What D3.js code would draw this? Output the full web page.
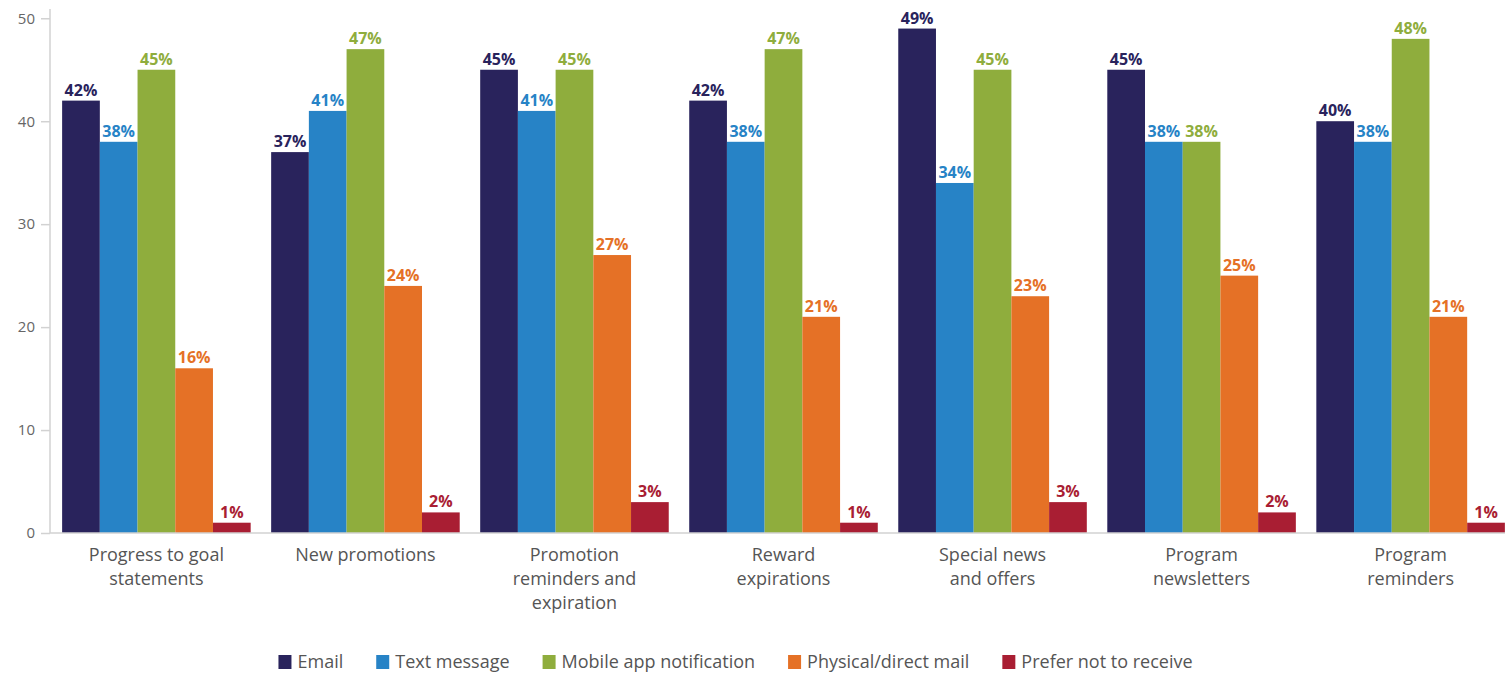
<!DOCTYPE html>
<html>
<head>
<meta charset="utf-8">
<script src="https://cdn.jsdelivr.net/npm/d3@7"></script>
<style>
  html, body { margin: 0; padding: 0; background: #fff; }
  svg { display: block; font-family: "Open Sans", "Noto Sans", sans-serif; }
</style>
</head>
<body>
<svg id="chart" width="1511" height="673"></svg>
<script>
// Preferred channel for each kind of program communication (% of respondents)
const categories = [
  "Progress to goal statements",
  "New promotions",
  "Promotion reminders and expiration",
  "Reward expirations",
  "Special news and offers",
  "Program newsletters",
  "Program reminders"
];
const categoryLines = [
  ["Progress to goal", "statements"],
  ["New promotions"],
  ["Promotion", "reminders and", "expiration"],
  ["Reward", "expirations"],
  ["Special news", "and offers"],
  ["Program", "newsletters"],
  ["Program", "reminders"]
];
const seriesNames = ["Email", "Text message", "Mobile app notification", "Physical/direct mail", "Prefer not to receive"];
const email    = [42, 37, 45, 42, 49, 45, 40];
const textMsg  = [38, 41, 41, 38, 34, 38, 38];
const mobile   = [45, 47, 45, 47, 45, 38, 48];
const physical = [16, 24, 27, 21, 23, 25, 21];
const prefer   = [1, 2, 3, 1, 3, 2, 1];
const seriesValues = [email, textMsg, mobile, physical, prefer];
const seriesColors = ["#29235c", "#2783c6", "#8fad3d", "#e57126", "#a91e33"];
const yTicks = [0, 10, 20, 30, 40, 50];

const svg = d3.select("#chart");
const plotLeft = 50, plotRight = 1505, plotTop = 9, plotBottom = 533;

const x0 = d3.scaleBand().domain(categories).range([plotLeft, plotRight + 12])
  .paddingInner(0.098).paddingOuter(0.058);
const x1 = d3.scaleBand().domain(seriesNames).range([0, x0.bandwidth()]);
const y = d3.scaleLinear().domain([0, 50.9]).range([plotBottom, plotTop]);
const color = d3.scaleOrdinal().domain(seriesNames).range(seriesColors);

const axisColor = "#d2d2d2";

// y axis
const yAxis = svg.append("g")
  .attr("transform", `translate(${plotLeft},0)`)
  .call(d3.axisLeft(y).tickValues(yTicks).tickSize(9).tickPadding(6).tickFormat(d3.format("d")));
yAxis.select(".domain").remove();
yAxis.selectAll(".tick line").attr("stroke", axisColor).attr("stroke-width", 1.5);
yAxis.selectAll(".tick text").attr("fill", "#666").style("font-size", "15px")
  .style("font-family", "\"Open Sans\", sans-serif");
svg.append("line")
  .attr("x1", plotLeft).attr("x2", plotLeft).attr("y1", plotTop).attr("y2", plotBottom)
  .attr("stroke", axisColor).attr("stroke-width", 1.5);

// bars
const rows = categories.map((c, i) => ({
  cat: c,
  vals: seriesNames.map((s, k) => ({ series: s, value: seriesValues[k][i] }))
}));

const groups = svg.append("g").selectAll("g").data(rows).join("g")
  .attr("transform", d => `translate(${x0(d.cat)},0)`);

groups.selectAll("rect").data(d => d.vals).join("rect")
  .attr("x", d => x1(d.series))
  .attr("y", d => y(d.value))
  .attr("width", x1.bandwidth())
  .attr("height", d => y(0) - y(d.value))
  .attr("fill", d => color(d.series));

groups.selectAll("text.val").data(d => d.vals).join("text")
  .attr("class", "val")
  .attr("x", d => x1(d.series) + x1.bandwidth() / 2)
  .attr("y", d => y(d.value) - 5)
  .attr("text-anchor", "middle")
  .attr("fill", d => color(d.series))
  .style("font-size", "16px")
  .style("font-weight", "700")
  .text(d => d.value + "%");

// x axis line
svg.append("line")
  .attr("x1", plotLeft).attr("x2", plotRight).attr("y1", plotBottom).attr("y2", plotBottom)
  .attr("stroke", axisColor).attr("stroke-width", 1.5);

// category labels
const catLabels = svg.append("g").selectAll("text").data(categories).join("text")
  .attr("x", d => x0(d) + x0.bandwidth() / 2)
  .attr("y", 561)
  .attr("text-anchor", "middle")
  .attr("fill", "#555")
  .style("font-size", "18px");
catLabels.each(function(d, i) {
  const t = d3.select(this);
  categoryLines[i].forEach((line, j) => {
    t.append("tspan")
      .attr("x", x0(d) + x0.bandwidth() / 2)
      .attr("dy", j === 0 ? 0 : 24)
      .text(line);
  });
});

// legend
const legendGap = 33;
const legend = svg.append("g");
const items = legend.selectAll("g").data(seriesNames).join("g");
items.append("rect").attr("width", 13).attr("height", 14).attr("y", -7)
  .attr("fill", d => color(d));
items.append("text").attr("x", 19).attr("y", 0).attr("dy", "0.35em")
  .attr("fill", "#555").style("font-size", "18px").text(d => d);
let cursor = 0;
items.each(function() {
  const g = d3.select(this);
  g.attr("transform", `translate(${cursor},0)`);
  cursor += 19 + g.select("text").node().getComputedTextLength() + legendGap;
});
const legendWidth = cursor - legendGap;
legend.attr("transform", `translate(${735.5 - legendWidth / 2},662)`);
</script>
</body>
</html>
